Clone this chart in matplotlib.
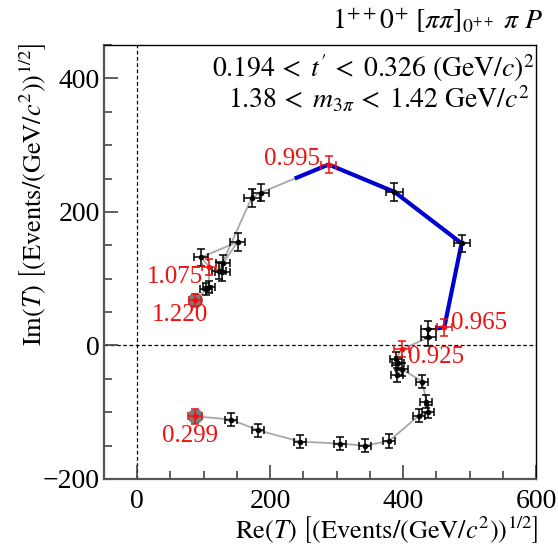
import numpy as np
import matplotlib
matplotlib.use("Agg")
import matplotlib.pyplot as plt
from matplotlib.ticker import MultipleLocator

plt.rcParams['font.family'] = ['Liberation Serif', 'DejaVu Serif']
plt.rcParams['mathtext.fontset'] = 'stix'

# Argand diagram of the 1++0+ [pipi]_0++ pi P wave, points ordered in m_pipi
re_t = [87, 141, 182, 245, 305, 343, 379, 424, 438, 435, 429, 399, 391, 392, 389,
        398, 438, 438, 462, 488, 387, 288, 186, 172, 123, 128, 129, 151, 96,
        108, 108, 104, 87]
im_t = [-106, -111, -127, -144, -147, -150, -143, -105, -99, -84, -54, -36, -44, -27, -20,
        -6, 12, 24, 27, 153, 230, 271, 229, 221, 112, 110, 123, 155, 132,
        118, 87, 84, 68]
re_err = [10, 9, 9, 9, 9, 9, 9, 9, 9, 9, 9, 9, 9, 9, 9,
          11, 11, 11, 11, 12, 13, 11, 12, 12, 11, 11, 11, 11, 11,
          11, 9, 9, 9]
im_err = [11, 10, 10, 10, 10, 10, 10, 10, 10, 10, 10, 10, 10, 10, 10,
          12, 13, 13, 13, 13, 13, 13, 13, 13, 13, 13, 13, 13, 13,
          12, 9, 9, 9]

# labelled bins (m_pipi in GeV/c^2)
mass_idx = [0, 15, 18, 21, 29, 32]
mass_labels = ["0.299", "0.925", "0.965", "0.995", "1.075", "1.220"]
circled_idx = [0, 32]
# f0(980) region highlighted in blue
blue_first, blue_last = 18, 21

label_offsets = {"0.299": ((-5, -9), 'center', 'top'),
                 "0.925": ((6, 3), 'left', 'top'),
                 "0.965": ((7, -2), 'left', 'baseline'),
                 "0.995": ((-9, 0), 'right', 'baseline'),
                 "1.075": ((-6, 1), 'right', 'top'),
                 "1.220": ((-15, -4), 'center', 'top')}

re_a = np.array(re_t, dtype=float)
im_a = np.array(im_t, dtype=float)
xe = np.array(re_err, dtype=float)
ye = np.array(im_err, dtype=float)

fig = plt.figure(figsize=(5.58, 5.53), dpi=100)
ax = fig.add_axes([104 / 558, 74 / 553, 432 / 558, 434 / 553])

# reference lines
ax.axvline(0, color='k', ls=(0, (3, 2)), lw=0.9, zorder=1)
ax.axhline(0, color='k', ls=(0, (3, 2)), lw=0.9, zorder=1)

# connecting line
ax.plot(re_a, im_a, color='#a8a8a8', lw=1.3, zorder=2)

# blue highlight, starting/ending half way to the neighbouring bins
bx = np.r_[(re_a[blue_first - 1] + re_a[blue_first]) / 2, re_a[blue_first:blue_last + 1],
           (re_a[blue_last] + re_a[blue_last + 1]) / 2]
by = np.r_[(im_a[blue_first - 1] + im_a[blue_first]) / 2, im_a[blue_first:blue_last + 1],
           (im_a[blue_last] + im_a[blue_last + 1]) / 2]
ax.plot(bx, by, color='#0000d0', lw=3, zorder=3, solid_capstyle='butt')

# grey circles at the ends
ax.plot(re_a[circled_idx], im_a[circled_idx], 'o', ms=10, color='#7c7c7c', zorder=4)

black = np.array([i not in mass_idx for i in range(len(re_a))])
ax.errorbar(re_a[black], im_a[black], xerr=xe[black], yerr=ye[black], fmt='o', ms=3,
            color='k', elinewidth=1.1, capsize=3, capthick=1.1, zorder=5)
red = np.array(mass_idx)
ax.errorbar(re_a[red], im_a[red], xerr=xe[red], yerr=ye[red], fmt='o', ms=3,
            color='#ee1111', elinewidth=1.1, capsize=3, capthick=1.1, zorder=6)

for i, lab in zip(mass_idx, mass_labels):
    off, ha, va = label_offsets[lab]
    ax.annotate(lab, (re_a[i], im_a[i]), xytext=off, textcoords='offset pixels',
                ha=ha, va=va, color='#ee1111', fontsize=18, zorder=7)

ax.set_xlim(-50, 600)
ax.set_ylim(-200, 450)
ax.xaxis.set_major_locator(MultipleLocator(200))
ax.xaxis.set_minor_locator(MultipleLocator(50))
ax.yaxis.set_major_locator(MultipleLocator(200))
ax.yaxis.set_minor_locator(MultipleLocator(50))
ax.tick_params(which='both', direction='in', color='#444444', width=1.2,
               top=False, right=False, labelsize=20)
ax.tick_params(which='major', length=10)
ax.tick_params(which='minor', length=5.5)
ax.tick_params(axis='x', pad=7)
ax.tick_params(axis='y', pad=3)
for s in ['left', 'bottom']:
    ax.spines[s].set_color('#555555')
    ax.spines[s].set_linewidth(1.6)
for s in ['top', 'right']:
    ax.spines[s].set_color('k')
    ax.spines[s].set_linewidth(1.0)

fig.text(543 / 558, 1 - 29 / 553, r'$1^{++}0^{+}\ [\pi\pi]_{0^{++}}\ \pi\ P$',
         ha='right', va='baseline', fontsize=20)
fig.text(535 / 558, 1 - 68 / 553,
         r'$0.194\,<\;t^{\prime}\,<\;0.326\ (\mathrm{GeV}/c)^{2}$',
         ha='right', va='center', fontsize=20)
fig.text(530 / 558, 1 - 99 / 553,
         r'$1.38\,<\;m_{3\pi}\,<\;1.42\ \mathrm{GeV}/c^{2}$',
         ha='right', va='center', fontsize=20)

fig.text(33 / 558, 1 - 43 / 553,
         r'$\mathrm{Im}(T)\ \left[(\mathrm{Events}/(\mathrm{GeV}/c^{2}))^{1/2}\right]$',
         rotation=90, ha='center', va='top', fontsize=19)
fig.text(538 / 558, 1 - 530 / 553,
         r'$\mathrm{Re}(T)\ \left[(\mathrm{Events}/(\mathrm{GeV}/c^{2}))^{1/2}\right]$',
         ha='right', va='center', fontsize=19)

fig.savefig('out.png', dpi=100)
